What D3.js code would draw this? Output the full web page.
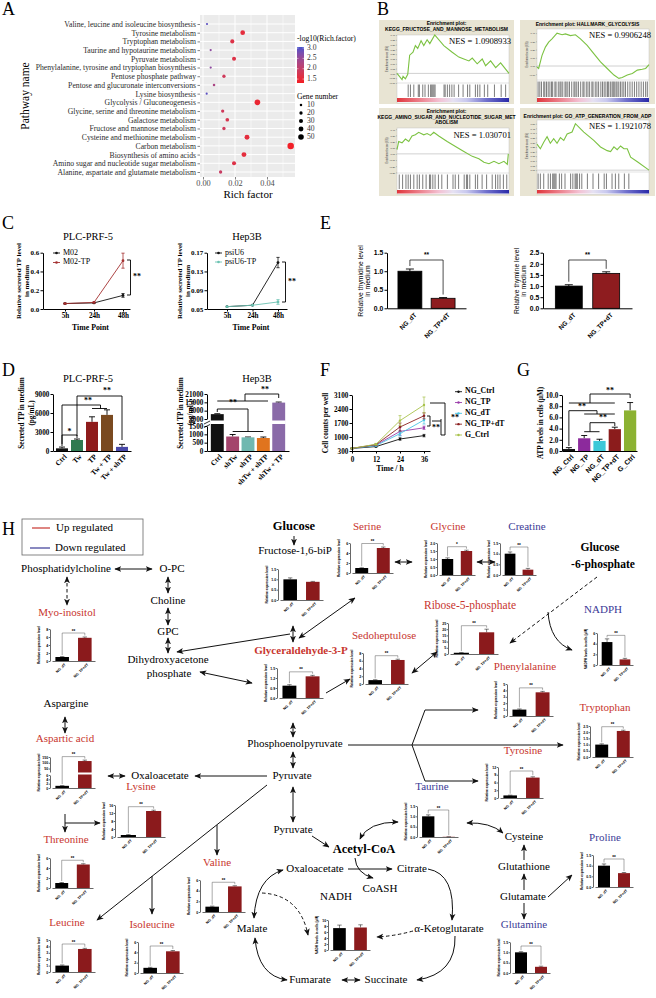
<!DOCTYPE html>
<html><head><meta charset="utf-8">
<script src="https://cdn.jsdelivr.net/npm/d3@7"></script>
<style>body{margin:0;background:#fff}svg{display:block}</style>
</head><body>
<script>
// ================= DATA =================
// Panel A
const pathways = ["Valine, leucine and isoleucine biosynthesis","Tyrosine metabolism","Tryptophan metabolism","Taurine and hypotaurine metabolism","Pyruvate metabolism","Phenylalanine, tyrosine and tryptophan biosynthesis","Pentose phosphate pathway","Pentose and glucuronate interconversions","Lysine biosynthesis","Glycolysis / Gluconeogenesis","Glycine, serine and threonine metabolism","Galactose metabolism","Fructose and mannose metabolism","Cysteine and methionine metabolism","Carbon metabolism","Biosynthesis of amino acids","Amino sugar and nucleotide sugar metabolism","Alanine, aspartate and glutamate metabolism"];
const richFactor = [0.0025,0.0248,0.0183,0.0048,0.0194,0.0048,0.0131,0.0069,0.0023,0.0340,0.0123,0.0152,0.0131,0.0275,0.0548,0.0256,0.0194,0.0110];
const negLog10 = [2.95,1.55,1.65,2.6,1.65,2.6,1.85,2.3,2.95,1.45,1.85,1.75,1.85,1.55,1.35,1.55,1.65,1.95];
const geneNumber = [5,38,30,6,30,6,20,10,5,50,20,25,20,41,62,40,30,20];
const richTicks = [0,0.02,0.04];
const colorLegendTicks = [3.0,2.5,2.0,1.5];
const sizeLegendTicks = [10,20,30,40,50];

// Panel B
const gseaTitles = [["Enrichment plot:","KEGG_FRUCTOSE_AND_MANNOSE_METABOLISM"],["Enrichment plot: HALLMARK_GLYCOLYSIS"],["Enrichment plot:","KEGG_AMINO_SUGAR_AND_NUCLEOTIDE_SUGAR_MET","ABOLISM"],["Enrichment plot: GO_ATP_GENERATION_FROM_ADP"]];
const gseaNES = ["1.0908933","0.9906248","1.030701","1.1921078"];
const esFructose = [[0,0],[0.045,-0.064],[0.054,-0.03],[0.075,-0.057],[0.096,-0.01],[0.113,0.19],[0.143,0.22],[0.164,0.29],[0.185,0.26],[0.215,0.34],[0.239,0.29],[0.269,0.35],[0.293,0.31],[0.337,0.40],[0.418,0.29],[0.493,0.22],[0.552,0.17],[0.597,0.15],[0.642,0.13],[0.672,0.16],[0.716,0.10],[0.761,0.15],[0.791,0.08],[0.836,0.13],[0.881,0.06],[0.925,0.11],[1,0]];
const esGlycolysis = [[0,-0.012],[0.015,-0.03],[0.045,0.13],[0.075,0.23],[0.104,0.29],[0.134,0.33],[0.179,0.40],[0.224,0.38],[0.254,0.39],[0.299,0.37],[0.343,0.38],[0.388,0.33],[0.448,0.25],[0.507,0.15],[0.567,0.05],[0.627,-0.03],[0.687,-0.11],[0.731,-0.15],[0.761,-0.14],[0.806,-0.11],[0.851,-0.09],[0.896,-0.05],[0.94,-0.04],[0.97,-0.03],[1,0.016]];
const esAminoSugar = [[0,0.07],[0.015,0.2],[0.045,0.18],[0.075,0.24],[0.105,0.2],[0.134,0.29],[0.164,0.31],[0.194,0.35],[0.239,0.31],[0.269,0.33],[0.299,0.3],[0.328,0.35],[0.373,0.29],[0.448,0.2],[0.522,0.12],[0.597,0.04],[0.672,-0.04],[0.731,-0.08],[0.776,-0.135],[0.821,-0.16],[0.866,-0.12],[0.91,-0.16],[0.955,-0.12],[0.985,-0.17],[0.994,0.0]];
const esATP = [[0,0.28],[0.03,0.23],[0.06,0.30],[0.09,0.36],[0.119,0.29],[0.149,0.34],[0.179,0.29],[0.209,0.35],[0.239,0.32],[0.269,0.39],[0.313,0.41],[0.343,0.50],[0.418,0.41],[0.507,0.32],[0.567,0.25],[0.627,0.21],[0.657,0.20],[0.687,0.25],[0.716,0.22],[0.746,0.26],[0.776,0.23],[0.806,0.23],[0.836,0.14],[0.896,0.09],[1,0.0]];
const hitsFructose = [0.10,0.12,0.15,0.19,0.20,0.23,0.25,0.28,0.30,0.31,0.32,0.33,0.34,0.42,0.43,0.45,0.47,0.49,0.51,0.55,0.59,0.63,0.65,0.70,0.72,0.74,0.78,0.81,0.87,0.93,0.97];
const hitsGlycolysis = [0.01,0.025,0.04,0.06,0.07,0.085,0.1,0.115,0.13,0.14,0.16,0.17,0.19,0.205,0.215,0.23,0.25,0.26,0.275,0.29,0.31,0.33,0.34,0.355,0.37,0.39,0.41,0.42,0.44,0.455,0.47,0.49,0.5,0.52,0.535,0.55,0.57,0.585,0.6,0.615,0.63,0.64,0.655,0.67,0.68,0.69,0.705,0.715,0.73,0.745,0.76,0.775,0.79,0.81,0.83,0.85,0.87,0.89,0.91,0.93,0.95,0.97,0.985];
const hitsAminoSugar = [0.02,0.05,0.08,0.1,0.12,0.15,0.18,0.2,0.23,0.26,0.29,0.3,0.32,0.34,0.37,0.4,0.45,0.5,0.52,0.55,0.6,0.62,0.63,0.65,0.7,0.72,0.76,0.8,0.85,0.88,0.9,0.92,0.95,0.98];
const hitsATP = [0.01,0.03,0.06,0.1,0.12,0.14,0.15,0.16,0.17,0.2,0.22,0.25,0.3,0.32,0.34,0.35,0.36,0.38,0.4,0.45,0.5,0.55,0.6,0.62,0.67,0.7,0.73,0.78,0.82];

// Panel C
const timeLabels = ["5h","24h","48h"];
const m02 = [0.058,0.065,0.145], m02Err = [0.004,0.004,0.02];
const m02TP = [0.058,0.07,0.515], m02TPErr = [0.004,0.005,0.08];
const psiU6 = [0.055,0.058,0.149], psiU6Err = [0.002,0.002,0.011];
const psiU6TP = [0.055,0.058,0.065], psiU6TPErr = [0.002,0.002,0.005];

// Panel D
const dLeftCats = ["Ctrl","Tw","TP","Tw + TP","Tw + shTP"];
const dLeftVals = [420,1740,4600,5700,650], dLeftErr = [200,150,800,800,400];
const dRightCats = ["Ctrl","shTw","shTP","shTw + shTP","shTw + TP"];
const dRightVals = [6500,870,820,780,14800], dRightErr = [300,120,20,60,400];
const dLeftTicks = [0,3000,6000,9000];
const dRightLowTicks = [0,500,1000,1500], dRightHighTicks = [3000,9000,15000,21000];

// Panel E
const eCats = ["NG_dT","NG_TP+dT"];
const thymidine = [1.0,0.27], thymidineErr = [0.06,0.02];
const thymine = [1.0,1.57], thymineErr = [0.06,0.07];

// Panel F
const fTimes = [0,12,24,36];
const fSeries = ["NG_Ctrl","NG_TP","NG_dT","NG_TP+dT","G_Ctrl"];
const fNGCtrl = [430,520,900,1070], fNGCtrlErr = [20,30,60,60];
const fNGTP = [430,600,1280,1460], fNGTPErr = [20,40,200,80];
const fNGdT = [430,570,1170,1850], fNGdTErr = [20,30,120,200];
const fNGTPdT = [430,620,1500,2060], fNGTPdTErr = [20,40,200,150];
const fGCtrl = [430,640,1820,2600], fGCtrlErr = [20,40,250,400];
const fTicks = [300,1000,1700,2400,3100];

// Panel G
const gCats = ["NG_Ctrl","NG_TP","NG_dT","NG_TP+dT","G_Ctrl"];
const atpVals = [0.35,2.27,1.8,3.9,7.25], atpErr = [0.25,0.5,0.3,0.35,1.4];
const gTicks = [0,2,4,6,8,10];

// Panel H mini bar charts
const groupLabels = ["NG_dT","NG_TP+dT"];
const miniNames = ["Fructose-1,6-biP","Serine","Glycine","Creatine","Ribose-5-phosphate","NADPH","Sedoheptulose","Glyceraldehyde-3-P","Myo-inositol","Phenylalanine","Tryptophan","Tyrosine","Aspartic acid","Lysine","Taurine","Threonine","Valine","Leucine","Isoleucine","NADH","Proline","Glutamine"];
const miniDT    = [1.0,1.0,1.0,1.0,1.0,4.3,1.0,0.97,1.0,1.0,1.0,1.0,1.0,1.0,1.0,1.0,1.0,1.0,1.0,7.3,1.0,1.0];
const miniDTErr = [0.07,0.05,0.07,0.08,0.15,0.6,0.1,0.03,0.1,0.1,0.06,0.1,0.1,0.2,0.07,0.1,0.1,0.1,0.1,1.0,0.08,0.03];
const miniTP    = [0.88,5.0,1.5,0.25,17.5,1.05,6.2,1.25,5.8,3.7,2.1,7.9,115,13.0,0.01,4.7,4.8,3.6,4.2,7.5,0.65,0.3];
const miniTPErr = [0.02,0.2,0.05,0.06,2.5,0.2,0.2,0.03,0.2,0.15,0.06,0.3,8,0.4,0.005,0.15,0.12,0.1,0.15,0.9,0.03,0.03];
const miniSig = ["","**","*","**","**","**","**","**","**","**","**","**","**","**","**","**","**","**","**","","**","**"];
const miniTicks = [[0,0.5,1.0,1.5],[0,2,4,6],[0,0.5,1.0,1.5,2.0],[0,0.5,1.0,1.5],[0,5,10,15,20,25],[0,2,4,6],[0,2,4,6,8],[0.6,0.9,1.2,1.5],[0,2,4,6,8],[0,1,2,3,4,5],[0,0.5,1.0,1.5,2.0,2.5],[0,3,6,9,12],[0,2,4,6],[0,4,8,12,16],[0,0.5,1.0,1.5],[0,2,4,6],[0,2,4,6],[0,1,2,3,4,5],[0,2,4,6],[0,2,4,6,8,10],[0,0.5,1.0,1.5],[0,0.5,1.0,1.5]];
const asparticUpperTicks = [50,100,150];

// ================= LAYOUT / HELPERS =================
const SERIF = "'Liberation Serif','Times New Roman',Times,serif";
const SANS = "'Liberation Sans',Arial,Helvetica,sans-serif";
const RED = "#c8352e", BLUE = "#3a3a96";
const svg = d3.select("body").append("svg").attr("width",656).attr("height",998).style("background","#fff");
const defs = svg.append("defs");
defs.append("marker").attr("id","ah").attr("viewBox","0 0 10 10").attr("refX",9).attr("refY",5)
  .attr("markerWidth",7).attr("markerHeight",7).attr("markerUnits","userSpaceOnUse").attr("orient","auto-start-reverse")
  .append("path").attr("d","M0,0.8 L10,5 L0,9.2 L2.5,5 Z").attr("fill","#111");
const grad = defs.append("linearGradient").attr("id","rankGrad");
[[0,"#e0363c"],[0.2,"#ec7f8a"],[0.38,"#f3c2d4"],[0.5,"#e6e2f2"],[0.62,"#c9c9ee"],[0.8,"#7070cc"],[1,"#2a2aa8"]]
  .forEach(s=>grad.append("stop").attr("offset",s[0]).attr("stop-color",s[1]));
const cgrad = defs.append("linearGradient").attr("id","colGrad").attr("x1",0).attr("x2",0).attr("y1",1).attr("y2",0);

function T(g,x,y,s,o={}){
  const t=g.append("text").attr("x",x).attr("y",y).text(s)
    .attr("font-family",o.family||SERIF).attr("font-size",o.size||11).attr("font-weight",o.weight||"normal")
    .attr("fill",o.fill||"#000").attr("text-anchor",o.anchor||"middle").attr("dominant-baseline",o.baseline||"middle");
  if(o.rotate!=null) t.attr("transform",`rotate(${o.rotate},${x},${y})`);
  return t;
}
function yAxis(g,x,scale,ticks,fmt,o={}){
  const ax=d3.axisLeft(scale).tickValues(ticks).tickFormat(fmt).tickSize(o.ts??2.5).tickSizeOuter(0).tickPadding(o.tp??1.2);
  const a=g.append("g").attr("transform",`translate(${x},0)`).call(ax);
  a.attr("font-family",null).attr("font-size",null);
  a.selectAll("text").attr("font-family",o.family||SERIF).attr("font-size",o.size||7.5).attr("font-weight",o.weight||"bold").attr("fill","#000");
  a.selectAll("line,path").attr("stroke","#000").attr("stroke-width",o.w||1);
  return a;
}
function xAxis(g,y,scale,o={}){
  const ax=d3.axisBottom(scale).tickSize(o.ts||0).tickSizeOuter(0);
  if(o.ticks) ax.tickValues(o.ticks);
  ax.tickFormat(o.fmt||"");
  const a=g.append("g").attr("transform",`translate(0,${y})`).call(ax);
  a.attr("font-family",null).attr("font-size",null);
  a.selectAll("text").attr("font-family",o.family||SERIF).attr("font-size",o.size||7.5).attr("font-weight",o.weight||"bold").attr("fill","#000");
  a.selectAll("line,path").attr("stroke","#000").attr("stroke-width",o.w||1);
  if(!o.ts) a.selectAll(".tick").remove();
  return a;
}
function pathD(g,d,o={}){
  return g.append("path").attr("d",d).attr("fill","none").attr("stroke",o.color||"#000").attr("stroke-width",o.w||0.9);
}
function errBar(g,cx,yA,yB,cap,o={}){
  g.append("line").attr("x1",cx).attr("x2",cx).attr("y1",yA).attr("y2",yB).attr("stroke",o.color||"#000").attr("stroke-width",o.w||0.9);
  g.append("line").attr("x1",cx-cap).attr("x2",cx+cap).attr("y1",yB).attr("y2",yB).attr("stroke",o.color||"#000").attr("stroke-width",o.w||0.9);
}
function letter(x,y,s){ T(svg,x,y,s,{size:18,anchor:"start",baseline:"auto"}); }

// ================= PANEL A =================
const A = svg.append("g");
letter(2,15,"A");
const aX = d3.scaleLinear().domain([0,0.04]).range([203,267]);
const aY = d3.scalePoint().domain(pathways).range([24,172]);
const aC = d3.scaleLinear().domain([1.3,3.05]).range(["#f41c22","#4652cc"]).interpolate(d3.interpolateLab);
const aR = d3.scaleLinear().domain([0,50]).range([0.9,2.8]);
A.append("rect").attr("x",200).attr("y",15).attr("width",95).attr("height",162).attr("fill","#ebebeb");
[0.01,0.03,0.05].forEach(v=>A.append("line").attr("x1",aX(v)).attr("x2",aX(v)).attr("y1",15).attr("y2",177).attr("stroke","#fff").attr("stroke-width",0.5));
richTicks.forEach(v=>A.append("line").attr("x1",aX(v)).attr("x2",aX(v)).attr("y1",15).attr("y2",177).attr("stroke","#fff").attr("stroke-width",1));
pathways.forEach(p=>A.append("line").attr("x1",200).attr("x2",295).attr("y1",aY(p)).attr("y2",aY(p)).attr("stroke","#fff").attr("stroke-width",1));
const aXa = A.append("g").attr("transform","translate(0,177)").call(d3.axisBottom(aX).tickValues(richTicks).tickFormat(d3.format(".2f")).tickSize(2.5).tickPadding(0.5));
aXa.select(".domain").remove();
aXa.selectAll("line").attr("stroke","#333").attr("stroke-width",0.6);
aXa.selectAll("text").attr("font-family",SERIF).attr("font-size",8.3).attr("fill","#4d4d4d");
const aYa = A.append("g").attr("transform","translate(200,0)").call(d3.axisLeft(aY).tickSize(2.5).tickPadding(1.5));
aYa.select(".domain").remove();
aYa.selectAll("line").attr("stroke","#333").attr("stroke-width",0.6);
aYa.selectAll("text").attr("font-family",SERIF).attr("font-size",7.7).attr("fill","#2a2a2a");
pathways.forEach((p,i)=>A.append("circle").attr("cx",aX(richFactor[i])).attr("cy",aY(p)).attr("r",aR(geneNumber[i])).attr("fill",aC(negLog10[i])));
T(A,248,195,"Rich factor",{size:11});
T(A,26,96,"Pathway name",{size:11.5,rotate:-90});
// colour legend
T(A,297,39,"-log10(Rich.factor)",{size:7.6,anchor:"start"});
const legC = d3.scaleLinear().domain([1.31,3.05]).range([83,47]);
d3.range(0,11).forEach(i=>{const v=1.31+i*(3.05-1.31)/10; cgrad.append("stop").attr("offset",i/10).attr("stop-color",aC(v));});
A.append("rect").attr("x",297).attr("y",47).attr("width",7).attr("height",36).attr("fill","url(#colGrad)");
colorLegendTicks.forEach(v=>{
  A.append("line").attr("x1",297).attr("x2",298.5).attr("y1",legC(v)).attr("y2",legC(v)).attr("stroke","#fff").attr("stroke-width",0.5);
  A.append("line").attr("x1",302.5).attr("x2",304).attr("y1",legC(v)).attr("y2",legC(v)).attr("stroke","#fff").attr("stroke-width",0.5);
  T(A,307,legC(v),d3.format(".1f")(v),{size:7.6,anchor:"start",fill:"#333"});
});
T(A,297,97,"Gene number",{size:7.6,anchor:"start"});
const legS = d3.scalePoint().domain(sizeLegendTicks).range([105,137]);
sizeLegendTicks.forEach(v=>{
  A.append("circle").attr("cx",301).attr("cy",legS(v)).attr("r",aR(v)).attr("fill","#000");
  T(A,307,legS(v),v,{size:7.6,anchor:"start",fill:"#333"});
});

// ================= PANEL B =================
letter(377,15,"B");
const gseaData = [esFructose,esGlycolysis,esAminoSugar,esATP];
const gseaHits = [hitsFructose,hitsGlycolysis,hitsAminoSugar,hitsATP];
const gseaLayout = [
  {x:379,y:20,w:135,h:84,ty:[24,30],x0:397,x1:509,esTop:35,esBot:83,hitBot:98,cbBot:103,dom:[-0.1,0.4],nesY:42},
  {x:520,y:20,w:135,h:84,ty:[25],x0:537,x1:649,esTop:29,esBot:80,hitBot:98,cbBot:103,dom:[-0.17,0.45],nesY:36},
  {x:379,y:108,w:135,h:88,ty:[112,117.5,123],x0:397,x1:509,esTop:128,esBot:173,hitBot:190,cbBot:194.5,dom:[-0.31,0.42],nesY:136},
  {x:520,y:108,w:135,h:88,ty:[117],x0:537,x1:649,esTop:120,esBot:172,hitBot:190,cbBot:194.5,dom:[-0.02,0.54],nesY:127}
];
gseaLayout.forEach((L,k)=>{
  const g = svg.append("g");
  g.append("rect").attr("x",L.x).attr("y",L.y).attr("width",L.w).attr("height",L.h).attr("fill","#e8e4d3");
  gseaTitles[k].forEach((t,i)=>T(g,L.x+L.w/2,L.ty[i],t,{family:SANS,size:5,weight:"bold"}));
  const x = d3.scaleLinear().domain([0,1]).range([L.x0,L.x1]);
  const y = d3.scaleLinear().domain(L.dom).range([L.esBot,L.esTop]);
  g.append("rect").attr("x",L.x0).attr("y",L.esTop).attr("width",L.x1-L.x0).attr("height",L.cbBot-L.esTop).attr("fill","#fff").attr("stroke","#b8b8b8").attr("stroke-width",0.4);
  g.append("line").attr("x1",L.x0).attr("x2",L.x1).attr("y1",y(0)).attr("y2",y(0)).attr("stroke","#c4c4c4").attr("stroke-width",0.8);
  g.append("path").datum(gseaData[k]).attr("d",d3.line().x(d=>x(d[0])).y(d=>y(d[1]))).attr("fill","none").attr("stroke","#7cc242").attr("stroke-width",1.1);
  g.append("line").attr("x1",L.x0).attr("x2",L.x1).attr("y1",L.esBot).attr("y2",L.esBot).attr("stroke","#b8b8b8").attr("stroke-width",0.4);
  gseaHits[k].forEach(h=>g.append("line").attr("x1",x(h)).attr("x2",x(h)).attr("y1",L.esBot+1.5).attr("y2",L.hitBot-1).attr("stroke","#111").attr("stroke-width",0.55));
  g.append("rect").attr("x",L.x0).attr("y",L.hitBot).attr("width",L.x1-L.x0).attr("height",L.cbBot-L.hitBot-1).attr("fill","url(#rankGrad)");
  const ya = g.append("g").attr("transform",`translate(${L.x0},0)`).call(d3.axisLeft(y).ticks(8).tickSize(1).tickPadding(0.8).tickFormat(d3.format(".2f")));
  ya.select(".domain").remove();
  ya.selectAll("line").attr("stroke","#666").attr("stroke-width",0.3);
  ya.selectAll("text").attr("font-family",SANS).attr("font-size",2.4).attr("fill","#333");
  T(g,L.x0-10,(L.esTop+L.esBot)/2,"Enrichment score (ES)",{family:SANS,size:2.6,rotate:-90,fill:"#333"});
  T(g,L.x1+2,L.nesY,"NES = "+gseaNES[k],{size:8.6,anchor:"end"});
});

// ================= PANEL C =================
letter(2,229,"C");
function linePanel(o){
  const g = svg.append("g");
  const x = d3.scalePoint().domain(timeLabels).range(o.xr);
  const y = d3.scaleLinear().domain(o.dom).range(o.yr);
  yAxis(g,o.ax,y,o.ticks,o.fmt,{size:7});
  xAxis(g,o.yr[0],d3.scaleLinear().domain([0,1]).range([o.ax,o.axEnd]));
  const xt = g.append("g").attr("transform",`translate(0,${o.yr[0]})`).call(d3.axisBottom(x).tickSize(2.5).tickPadding(1.5));
  xt.select(".domain").remove(); xt.attr("font-family",null).attr("font-size",null);
  xt.selectAll("line").attr("stroke","#000").attr("stroke-width",1);
  xt.selectAll("text").attr("font-family",SERIF).attr("font-size",7.2).attr("font-weight","bold").attr("fill","#000");
  o.series.forEach(s=>{
    g.append("path").datum(s.v).attr("d",d3.line().x((d,i)=>x(timeLabels[i])).y(d=>y(d))).attr("fill","none").attr("stroke",s.c).attr("stroke-width",0.9);
    s.v.forEach((v,i)=>{
      const cx=x(timeLabels[i]);
      if(s.e[i]>0.003){ errBar(g,cx,y(v),y(v+s.e[i]),1.6,{color:s.c,w:0.8}); errBar(g,cx,y(v),y(v-s.e[i]),1.6,{color:s.c,w:0.8}); }
      g.append("circle").attr("cx",cx).attr("cy",y(v)).attr("r",1.4).attr("fill",s.c);
    });
  });
  o.series.forEach((s,i)=>{
    const ly=o.legY[i];
    g.append("line").attr("x1",o.legX).attr("x2",o.legX+7).attr("y1",ly).attr("y2",ly).attr("stroke",s.c).attr("stroke-width",0.9);
    g.append("circle").attr("cx",o.legX+3.5).attr("cy",ly).attr("r",1.3).attr("fill",s.c);
    T(g,o.legX+10,ly,s.name,{size:8,anchor:"start"});
  });
  T(g,o.titleX,238,o.title,{size:10.5});
  T(g,(o.ax+o.axEnd)/2+4,328,"Time Point",{size:7.8,weight:"bold"});
  T(g,o.labX[0],281,"Relative secreted TP level",{size:7,weight:"bold",rotate:-90});
  T(g,o.labX[1],281,"in medium",{size:7,weight:"bold",rotate:-90});
  pathD(g,o.br,{w:0.9});
  T(g,o.starX,o.starY,"**",{size:8,weight:"bold"});
}
linePanel({xr:[65,123],ax:43,axEnd:130,dom:[0,0.6],yr:[309,252.7],ticks:[0,0.2,0.4,0.6],fmt:d3.format(".1f"),
  series:[{name:"M02",v:m02,e:m02Err,c:"#111"},{name:"M02-TP",v:m02TP,e:m02TPErr,c:"#a43030"}],
  legX:53,legY:[253,262.5],title:"PLC-PRF-5",titleX:88,labX:[19,27],br:"M127,260 H130.5 V295 H127",starX:137,starY:277});
linePanel({xr:[227,278],ax:207,axEnd:287,dom:[0.05,0.17],yr:[309,252.7],ticks:[0.05,0.09,0.13,0.17],fmt:d3.format(".2f"),
  series:[{name:"psiU6",v:psiU6,e:psiU6Err,c:"#111"},{name:"psiU6-TP",v:psiU6TP,e:psiU6TPErr,c:"#6cc2b2"}],
  legX:215,legY:[253,262],title:"Hep3B",titleX:247,labX:[180,188.5],br:"M282,262 H285.5 V302 H282",starX:292,starY:282});

// ================= PANEL E =================
letter(320,229,"E");
function twoBar(o){
  const g = svg.append("g");
  const x = d3.scaleBand().domain(eCats).range([o.ax,o.end]).paddingInner(0.28).paddingOuter(0.33);
  const y = d3.scaleLinear().domain(o.dom).range([308.3,252.7]);
  eCats.forEach((c,i)=>{
    g.append("rect").attr("x",x(c)).attr("y",y(o.v[i])).attr("width",x.bandwidth()).attr("height",y(0)-y(o.v[i])).attr("fill",i?"#8e1c1f":"#000").attr("stroke","#000").attr("stroke-width",0.8);
    errBar(g,x(c)+x.bandwidth()/2,y(o.v[i]),y(o.v[i]+o.e[i]),4,{w:0.9});
    T(g,x(c)+x.bandwidth()/2+6,y(0)+6,c,{family:SANS,size:6.4,weight:"bold",anchor:"end",rotate:-45});
  });
  yAxis(g,o.ax,y,o.ticks,d3.format(".1f"),{family:SANS,size:6.8,ts:2.5});
  xAxis(g,y(0),x);
  const c1=x(eCats[0])+x.bandwidth()/2, c2=x(eCats[1])+x.bandwidth()/2;
  const t1=y(o.v[0]+o.e[0])-3, t2=y(o.v[1]+o.e[1])-3;
  pathD(g,`M${c1},${t1} V260 H${c2} V${t2}`,{w:0.7});
  T(g,(c1+c2)/2,255.5,"**",{family:SANS,size:6.5,weight:"bold"});
  T(g,o.ax-26,281,o.label,{family:SANS,size:6.8,rotate:-90});
  T(g,o.ax-18.5,281,"in medium",{family:SANS,size:6.8,rotate:-90});
}
twoBar({ax:387,end:466,dom:[0,1.5],ticks:[0,0.5,1.0,1.5],v:thymidine,e:thymidineErr,label:"Relative thymidine level"});
twoBar({ax:543,end:632,dom:[0,2.5],ticks:[0,0.5,1.0,1.5,2.0,2.5],v:thymine,e:thymineErr,label:"Relative thymine level"});

// ================= PANEL D =================
letter(2,376,"D");
(function(){
  const g = svg.append("g");
  const cols = ["#111","#2f7a50","#8e1c1c","#7a4a20","#4848a8"];
  const x = d3.scaleBand().domain(dLeftCats).range([53,131]).paddingInner(0.2).paddingOuter(0.2);
  const y = d3.scaleLinear().domain([0,9000]).range([451,394]);
  dLeftCats.forEach((c,i)=>{
    const cx=x(c)+x.bandwidth()/2;
    errBar(g,cx,y(dLeftVals[i]),y(dLeftVals[i]+dLeftErr[i]),3,{w:0.9});
    g.append("rect").attr("x",x(c)).attr("y",y(dLeftVals[i])).attr("width",x.bandwidth()).attr("height",y(0)-y(dLeftVals[i])).attr("fill",cols[i]);
    T(g,cx+4,y(0)+5,c,{size:7.2,weight:"bold",anchor:"end",rotate:-45});
  });
  yAxis(g,53,y,dLeftTicks,d3.format("d"),{size:7.2});
  xAxis(g,451,x);
  const cx = c=>x(c)+x.bandwidth()/2;
  pathD(g,`M${cx("Ctrl")},446 V435 H${cx("Tw")} V438`);
  T(g,(cx("Ctrl")+cx("Tw"))/2,432,"*",{size:8,weight:"bold"});
  pathD(g,`M${cx("Ctrl")},444 V405 H100.5 V408.5 M${cx("TP")},408.5 H${cx("Tw + TP")}`);
  T(g,88,401.5,"**",{size:8,weight:"bold"});
  pathD(g,`M${cx("Tw")},436 V396 H${cx("Tw + shTP")} V440`);
  T(g,107,391,"**",{size:8,weight:"bold"});
  T(g,88,380,"PLC-PRF-5",{size:10.5});
  T(g,22,413,"Secreted TP in medium",{size:7.2,weight:"bold",rotate:-90});
  T(g,32,413,"(pg/mL)",{size:7.2,weight:"bold",rotate:-90});
})();
(function(){
  const g = svg.append("g");
  const cols = ["#111","#a4446c","#70b8b0","#e0741e","#8a6aa8"];
  const x = d3.scaleBand().domain(dRightCats).range([207,289]).paddingInner(0.16).paddingOuter(0.25);
  const yLo = d3.scaleLinear().domain([0,1500]).range([451,426]);
  const yHi = d3.scaleLinear().domain([3000,21000]).range([419,394]);
  const y = v => v<=1500 ? yLo(v) : yHi(v);
  dRightCats.forEach((c,i)=>{
    const cx=x(c)+x.bandwidth()/2, v=dRightVals[i];
    errBar(g,cx,y(v),y(v+dRightErr[i]),3,{w:0.9});
    g.append("rect").attr("x",x(c)).attr("y",y(v)).attr("width",x.bandwidth()).attr("height",451-y(v)).attr("fill",cols[i]);
    if(v>1500) g.append("rect").attr("x",x(c)-0.5).attr("y",420.5).attr("width",x.bandwidth()+1).attr("height",3.5).attr("fill","#fff");
    T(g,cx+4,456,c,{size:7.2,weight:"bold",anchor:"end",rotate:-45});
  });
  yAxis(g,207,yLo,dRightLowTicks,d3.format("d"),{size:7.2});
  yAxis(g,207,yHi,dRightHighTicks,d3.format("d"),{size:7.2});
  pathD(g,"M204,427.5 L210,424.5 M204,424 L210,421",{w:0.8});
  xAxis(g,451,x);
  const cx = c=>x(c)+x.bandwidth()/2;
  pathD(g,`M${cx("Ctrl")},412 V409 H248 V431.5 M${cx("shTw")},431.5 H${cx("shTw + shTP")}`);
  T(g,233,403,"**",{size:8,weight:"bold"});
  pathD(g,`M${cx("Ctrl")},401 H268 M245,401 V394 H${cx("shTw + TP")} V398`);
  T(g,265,390,"**",{size:8,weight:"bold"});
  T(g,257,380,"Hep3B",{size:10.5});
  T(g,181,413,"Secreted TP in medium",{size:7.2,weight:"bold",rotate:-90});
  T(g,191,413,"(pg/mL)",{size:7.2,weight:"bold",rotate:-90});
})();

// ================= PANEL F =================
letter(320,376,"F");
(function(){
  const g = svg.append("g");
  const x = d3.scaleLinear().domain([0,39]).range([352,430]);
  const y = d3.scaleLinear().domain([300,3100]).range([451,395]);
  const cols = ["#111","#9a3aaa","#48c4e4","#8b2020","#a8c24a"];
  const vals = [fNGCtrl,fNGTP,fNGdT,fNGTPdT,fGCtrl], errs=[fNGCtrlErr,fNGTPErr,fNGdTErr,fNGTPdTErr,fGCtrlErr];
  vals.forEach((s,k)=>{
    g.append("path").datum(s).attr("d",d3.line().x((d,i)=>x(fTimes[i])).y(d=>y(d))).attr("fill","none").attr("stroke",cols[k]).attr("stroke-width",0.9);
    s.forEach((v,i)=>{
      errBar(g,x(fTimes[i]),y(v),y(v+errs[k][i]),1.5,{color:cols[k],w:0.7});
      errBar(g,x(fTimes[i]),y(v),y(v-errs[k][i]),1.5,{color:cols[k],w:0.7});
      g.append("circle").attr("cx",x(fTimes[i])).attr("cy",y(v)).attr("r",1.2).attr("fill",cols[k]);
    });
  });
  yAxis(g,352,y,fTicks,d3.format("d"),{size:7.2});
  xAxis(g,451,x,{ts:2.5,ticks:fTimes,fmt:d3.format("d"),size:7.2});
  T(g,390,469,"Time / h",{size:7.8,weight:"bold"});
  T(g,326,423,"Cell counts per well",{size:7.2,weight:"bold",rotate:-90});
  const legY = d3.scalePoint().domain(fSeries).range([391.7,435]);
  fSeries.forEach((s,k)=>{
    g.append("line").attr("x1",455).attr("x2",462).attr("y1",legY(s)).attr("y2",legY(s)).attr("stroke",cols[k]).attr("stroke-width",0.9);
    g.append("circle").attr("cx",458.5).attr("cy",legY(s)).attr("r",1.2).attr("fill",cols[k]);
    T(g,465,legY(s),s,{size:7.8,weight:"bold",anchor:"start"});
  });
  pathD(g,"M430,403 H445 V435 H441");
  T(g,451,418,"**",{size:8,weight:"bold",anchor:"start"});
  pathD(g,"M427,416 H430 V426 H427");
  pathD(g,"M432,421 H441 M441,419 V435");
  T(g,436,428,"**",{size:8,weight:"bold"});
})();

// ================= PANEL G =================
letter(517,376,"G");
(function(){
  const g = svg.append("g");
  const cols = ["#111","#8c2a9c","#3cc8d8","#8b1c1c","#8cb232"];
  const x = d3.scaleBand().domain(gCats).range([562,637]).paddingInner(0.2).paddingOuter(0.05);
  const y = d3.scaleLinear().domain([0,10]).range([451,395]);
  const cx = c=>x(c)+x.bandwidth()/2;
  gCats.forEach((c,i)=>{
    errBar(g,cx(c),y(atpVals[i]),y(atpVals[i]+atpErr[i]),3,{w:0.9});
    g.append("rect").attr("x",x(c)).attr("y",y(atpVals[i])).attr("width",x.bandwidth()).attr("height",y(0)-y(atpVals[i])).attr("fill",cols[i]);
    T(g,cx(c)+4,456,c,{family:SANS,size:7,weight:"bold",anchor:"end",rotate:-45});
  });
  yAxis(g,562,y,gTicks,d3.format(".1f"),{size:7.2});
  xAxis(g,451,x);
  pathD(g,`M${cx("NG_Ctrl")},403 H${cx("NG_TP+dT")} M590,403 V394 H${cx("G_Ctrl")} V398`);
  T(g,610,391,"**",{size:8,weight:"bold"});
  pathD(g,`M${cx("NG_Ctrl")},446 V410.7 H597 V414 M${cx("NG_TP")},414 H${cx("NG_TP+dT")}`);
  T(g,582,407,"**",{size:8,weight:"bold"});
  pathD(g,`M${cx("NG_TP")},431.7 H${cx("NG_dT")} M590,431.7 V422.7 H${cx("NG_TP+dT")} V426`);
  T(g,603,418,"**",{size:8,weight:"bold"});
  T(g,541,423,"ATP levels in cells (\u03bcM)",{size:7.2,weight:"bold",rotate:-90});
})();

// ================= PANEL H =================
letter(2,535,"H");
const H = svg.append("g");
H.append("rect").attr("x",22).attr("y",519).attr("width",121).attr("height",36).attr("fill","none").attr("stroke","#666").attr("stroke-width",0.8);
H.append("line").attr("x1",32).attr("x2",50).attr("y1",528).attr("y2",528).attr("stroke",RED).attr("stroke-width",1.2);
T(H,56,528,"Up regulated",{size:11,anchor:"start"});
H.append("line").attr("x1",30).attr("x2",50).attr("y1",548).attr("y2",548).attr("stroke",BLUE).attr("stroke-width",1.2);
T(H,55,548,"Down regulated",{size:11,anchor:"start"});

const miniLayout = [
 {ax:278,top:569,bot:600,end:325},{ax:350,top:543,bot:573,end:395},{ax:437,top:543,bot:575,end:477},{ax:500,top:543,bot:575,end:538},
 {ax:448,top:623,bot:654,end:500},{ax:597,top:633,bot:665,end:635},{ax:363,top:653,bot:684,end:410},{ax:277,top:668,bot:698,end:325},
 {ax:50,top:629,bot:661,end:97},{ax:507,top:684,bot:716,end:555},{ax:590,top:726,bot:757,end:635},{ax:498,top:767,bot:798,end:545},
 {ax:50,top:757,bot:788,end:97},{ax:115,top:805,bot:837,end:167},{ax:417,top:806,bot:837,end:460},{ax:50,top:858,bot:888,end:95},
 {ax:200,top:880,bot:912,end:247},{ax:50,top:940,bot:972,end:97},{ax:138,top:942,bot:973,end:185},{ax:328,top:920,bot:950,end:372},
 {ax:593,top:855,bot:887,end:635},{ax:510,top:942,bot:973,end:552}
];
miniNames.forEach((name,i)=>{
  const L = miniLayout[i], tk = miniTicks[i];
  const g = H.append("g");
  const x = d3.scaleBand().domain(groupLabels).range([L.ax+2,L.end-2]).paddingInner(0.4).paddingOuter(0.15);
  let y, yHi=null;
  const yLo = d3.scaleLinear().domain([tk[0],tk[tk.length-1]]).range([L.bot, name==="Aspartic acid" ? L.bot-13 : L.top]);
  if(name==="Aspartic acid"){
    yHi = d3.scaleLinear().domain([20,asparticUpperTicks[asparticUpperTicks.length-1]]).range([L.bot-16,L.top]);
    y = v => v<=tk[tk.length-1] ? yLo(v) : yHi(v);
  } else y = yLo;
  const vals=[miniDT[i],miniTP[i]], errs=[miniDTErr[i],miniTPErr[i]];
  groupLabels.forEach((k,j)=>{
    const cx=x(k)+x.bandwidth()/2;
    errBar(g,cx,y(vals[j]),y(vals[j]+errs[j]),2.2,{w:0.5});
    g.append("rect").attr("x",x(k)).attr("y",y(vals[j])).attr("width",x.bandwidth()).attr("height",L.bot-y(vals[j])).attr("fill",j?"#8b1a1c":"#000");
    if(yHi && vals[j]>tk[tk.length-1]) g.append("rect").attr("x",x(k)-0.5).attr("y",L.bot-15.5).attr("width",x.bandwidth()+1).attr("height",2).attr("fill","#fff");
    T(g,cx+3,L.bot+3,k,{family:SANS,size:3.7,weight:"bold",anchor:"end",rotate:-45});
  });
  yAxis(g,L.ax,yLo,tk,d3.format(tk.some(t=>t%1!==0)?".1f":"d"),{family:SANS,size:3.5,ts:1.3,tp:0.6,w:0.6});
  if(yHi) yAxis(g,L.ax,yHi,asparticUpperTicks,d3.format("d"),{family:SANS,size:3.5,ts:1.3,tp:0.6,w:0.6});
  xAxis(g,L.bot,x,{w:0.6});
  const ylab = name==="NADPH" ? "NADPH levels in cells (\u03bcM)" : name==="NADH" ? "NADH levels in cells (\u03bcM)" : "Relative expression level";
  T(g,L.ax-10.5,(L.top+L.bot)/2,ylab,{family:SANS,size:3.2,weight:"bold",rotate:-90});
  if(miniSig[i]){
    const c1=x(groupLabels[0])+x.bandwidth()/2, c2=x(groupLabels[1])+x.bandwidth()/2;
    const t1=y(vals[0]+errs[0])-1.5, t2=y(vals[1]+errs[1])-1.5;
    const by=Math.min(L.top+4,t1-2,t2-2);
    pathD(g,`M${c1},${t1} V${by} H${c2} V${t2}`,{w:0.45,color:"#444"});
    T(g,(c1+c2)/2,by-1.6,miniSig[i],{family:SANS,size:4.5,weight:"bold"});
  }
});

// pathway labels
const lab = (x,y,s,o={}) => T(H,x,y,s,Object.assign({size:11},o));
lab(294,527,"Glucose",{weight:"bold",size:12.5});
lab(295,551,"Fructose-1,6-biP");
lab(66,569,"Phosphatidylcholine");
lab(172,569,"O-PC");
lab(168,601,"Choline");
lab(168,632,"GPC");
lab(168,660,"Dihydroxyacetone");
lab(169,674,"phosphate");
lab(67,613,"Myo-inositol",{fill:RED});
lab(301,651,"Glyceraldehyde-3-P",{fill:RED,weight:"bold",size:11});
lab(367,527,"Serine",{fill:RED});
lab(448,527,"Glycine",{fill:RED});
lab(527,527,"Creatine",{fill:BLUE});
lab(600,548,"Glucose",{weight:"bold",size:11.5});
lab(603,565,"-6-phosphate",{weight:"bold",size:11.5});
lab(470,606,"Ribose-5-phosphate",{fill:RED,size:11.5});
lab(603,610,"NADPH",{fill:BLUE});
lab(384,636,"Sedoheptulose",{fill:RED});
lab(525,667,"Phenylalanine",{fill:RED});
lab(605,708,"Tryptophan",{fill:RED});
lab(66,704,"Aspargine");
lab(65,739,"Aspartic acid",{fill:RED});
lab(295,744,"Phosphoenolpyruvate");
lab(160,776,"Oxaloacetate");
lab(292,776,"Pyruvate");
lab(141,787,"Lysine",{fill:RED});
lab(523,751,"Tyrosine",{fill:RED});
lab(432,787,"Taurine",{fill:BLUE});
lab(66,840,"Threonine",{fill:RED});
lab(293,830,"Pyruvate");
lab(364,850,"Acetyl-CoA",{weight:"bold",size:12.5});
lab(524,837,"Cysteine");
lab(605,838,"Proline",{fill:BLUE});
lab(217,863,"Valine",{fill:RED});
lab(315,869,"Oxaloacetate");
lab(412,869,"Citrate");
lab(380,889,"CoASH");
lab(336,897,"NADH");
lab(524,867,"Glutathione");
lab(523,897,"Glutamate");
lab(524,925,"Glutamine",{fill:BLUE});
lab(67,923,"Leucine",{fill:RED});
lab(152,925,"Isoleucine",{fill:RED});
lab(252,929,"Malate");
lab(449,929,"\u03b1-Ketoglutarate");
lab(310,980,"Fumarate");
lab(386,980,"Succinate");

// arrows
function arrow(d,o={}){
  const p = H.append("path").attr("d",d).attr("fill","none").attr("stroke","#111").attr("stroke-width",o.w||1);
  if(o.start) p.attr("marker-start","url(#ah)");
  if(o.end!==false) p.attr("marker-end","url(#ah)");
  if(o.dash) p.attr("stroke-dasharray","3.5,2.5");
}
arrow("M115,569 L152,569",{start:true});
arrow("M67,577 L67,605",{start:true,dash:true});
arrow("M168,577 L168,593",{start:true});
arrow("M168,608 L168,625",{start:true});
arrow("M168,638 L168,653",{start:true});
arrow("M290,634 L177,652");
arrow("M200,672 L252,683",{start:true});
arrow("M294,536 L294,545");
arrow("M293,626 L293,642",{start:true});
arrow("M299,638 L355,598",{start:true});
arrow("M395,562 L412,562",{start:true});
arrow("M477,562 L495,562",{start:true});
arrow("M597,577 L510,643",{dash:true});
arrow("M548,612 Q550,642 572,650");
arrow("M412,673 L437,652",{start:true});
arrow("M326,693 L350,679");
arrow("M293,723 L293,737",{start:true});
arrow("M293,752 L293,768",{start:true});
arrow("M267,776 L195,776");
arrow("M108,776 L125,776",{start:true});
arrow("M65,717 L65,733",{start:true});
arrow("M65,814 L65,832");
arrow("M65,823 L100,823");
arrow("M293,787 L293,822",{start:true});
arrow("M267,785 L97,920");
arrow("M217,825 L217,855");
arrow("M152,876 L152,914");
arrow("M312,836 L329,847");
arrow("M348,745 L563,745");
arrow("M412,745 L425,710 L478,710");
arrow("M412,745 L425,781 L478,781");
arrow("M360,839 Q368,822 398,822",{start:true});
arrow("M467,823 Q490,822 503,833",{start:true});
arrow("M524,860 L524,845");
arrow("M524,890 L524,874");
arrow("M524,903 L524,919");
arrow("M548,897 L572,875");
arrow("M348,869 L392,869");
arrow("M355,858 Q356,873 373,878");
arrow("M428,869 Q456,874 452,920");
arrow("M455,936 Q456,974 417,980");
arrow("M413,931 Q395,936 377,937",{dash:true});
arrow("M342,980 L360,980",{start:true});
arrow("M254,918 Q256,878 283,870",{start:true});
arrow("M255,938 Q258,976 287,980",{start:true});
arrow("M262,893 Q300,895 308,935",{dash:true});
</script>
</body></html>
